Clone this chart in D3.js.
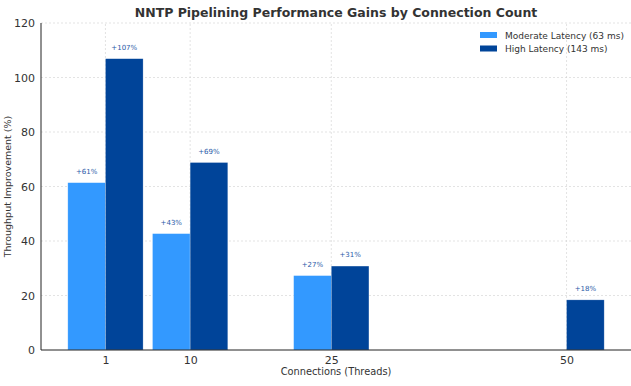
<!DOCTYPE html>
<html lang="en">
<head>
<meta charset="UTF-8">
<title>NNTP Pipelining</title>
<style>
body { margin: 0; background: #fff; }
text { font-family: "DejaVu Sans", sans-serif; }
.grid line { stroke: #d0d0d0; stroke-dasharray: 2,2; stroke-width: 0.6px; }
.axis path { stroke: #222; stroke-width: 1px; }
.axis text { fill: #333; font-size: 11px; }
</style>
</head>
<body>
<script src="https://cdn.jsdelivr.net/npm/d3@7"></script>
<script>
var connections = [1, 10, 25, 50];
var moderate = [61.4, 42.7, 27.3, 0];
var high = [106.9, 68.8, 30.8, 18.4];
var yTicks = [0, 20, 40, 60, 80, 100, 120];
var seriesNames = ["Moderate Latency (63 ms)", "High Latency (143 ms)"];
var colors = ["#3399ff", "#004499"];

var width = 631, height = 386;
var barW = 4;

var x = d3.scaleLinear().domain([-5.85, 56.85]).range([41, 631]);
var y = d3.scaleLinear().domain([0, 120]).range([350, 23]);

var svg = d3.select("body").append("svg")
    .attr("width", width)
    .attr("height", height);

// grid
svg.append("g").attr("class", "grid")
    .selectAll("line").data(yTicks.slice(1)).enter().append("line")
    .attr("x1", x.range()[0]).attr("x2", x.range()[1])
    .attr("y1", function(d) { return y(d); })
    .attr("y2", function(d) { return y(d); });
svg.append("g").attr("class", "grid")
    .selectAll("line").data(connections).enter().append("line")
    .attr("x1", function(d) { return x(d); })
    .attr("x2", function(d) { return x(d); })
    .attr("y1", y(0)).attr("y2", y(120));

var series = [moderate, high];
series.forEach(function(vals, si) {
    var data = connections.map(function(c, i) { return { c: c, v: vals[i] }; })
        .filter(function(d) { return d.v > 0; });
    var off = si === 0 ? -barW : 0;
    svg.append("g").selectAll("rect").data(data).enter().append("rect")
        .attr("x", function(d) { return x(d.c + off); })
        .attr("width", function(d) { return x(d.c + off + barW) - x(d.c + off); })
        .attr("y", function(d) { return y(d.v); })
        .attr("height", function(d) { return y(0) - y(d.v); })
        .attr("fill", colors[si])
        .attr("stroke", "#fff")
        .attr("stroke-opacity", 0.4)
        .attr("stroke-width", 0.6);
    svg.append("g").selectAll("text").data(data).enter().append("text")
        .attr("x", function(d) { return x(d.c + off + barW / 2); })
        .attr("y", function(d) { return y(d.v) - 9; })
        .attr("text-anchor", "middle")
        .attr("font-size", "7px")
        .attr("fill", "#2a5aa8")
        .text(function(d) { return "+" + Math.round(d.v) + "%"; });
});

// axes
svg.append("g").attr("class", "axis")
    .attr("transform", "translate(0," + y(0) + ")")
    .call(d3.axisBottom(x).tickValues(connections).tickSize(0).tickPadding(6).tickFormat(d3.format("d")))
    .call(function(g) { g.select(".domain").attr("d", "M" + x.range()[0] + ",0H" + x.range()[1]); });
svg.append("g").attr("class", "axis")
    .attr("transform", "translate(" + x.range()[0] + ",0)")
    .call(d3.axisLeft(y).tickValues(yTicks).tickSize(0).tickPadding(6))
    .call(function(g) { g.select(".domain").attr("d", "M0," + y(0) + "V" + y(120)); });

// title and labels
svg.append("text")
    .attr("x", 336).attr("y", 17)
    .attr("text-anchor", "middle")
    .attr("font-size", "12.5px")
    .attr("font-weight", "bold")
    .attr("fill", "#333")
    .text("NNTP Pipelining Performance Gains by Connection Count");
svg.append("text")
    .attr("x", 336).attr("y", 375)
    .attr("text-anchor", "middle")
    .attr("font-size", "9.8px")
    .attr("fill", "#333")
    .text("Connections (Threads)");
svg.append("text")
    .attr("transform", "translate(11," + ((y(0) + y(120)) / 2) + ") rotate(-90)")
    .attr("text-anchor", "middle")
    .attr("font-size", "9.5px")
    .attr("fill", "#333")
    .text("Throughput Improvement (%)");

// legend
var leg = svg.append("g").attr("transform", "translate(480,32)");
seriesNames.forEach(function(n, i) {
    leg.append("rect").attr("x", 0).attr("y", i * 13.5)
        .attr("width", 17).attr("height", 6).attr("fill", colors[i]);
    leg.append("text").attr("x", 25).attr("y", i * 13.5 + 6.5)
        .attr("font-size", "9px").attr("fill", "#333").text(n);
});
</script>
</body>
</html>
